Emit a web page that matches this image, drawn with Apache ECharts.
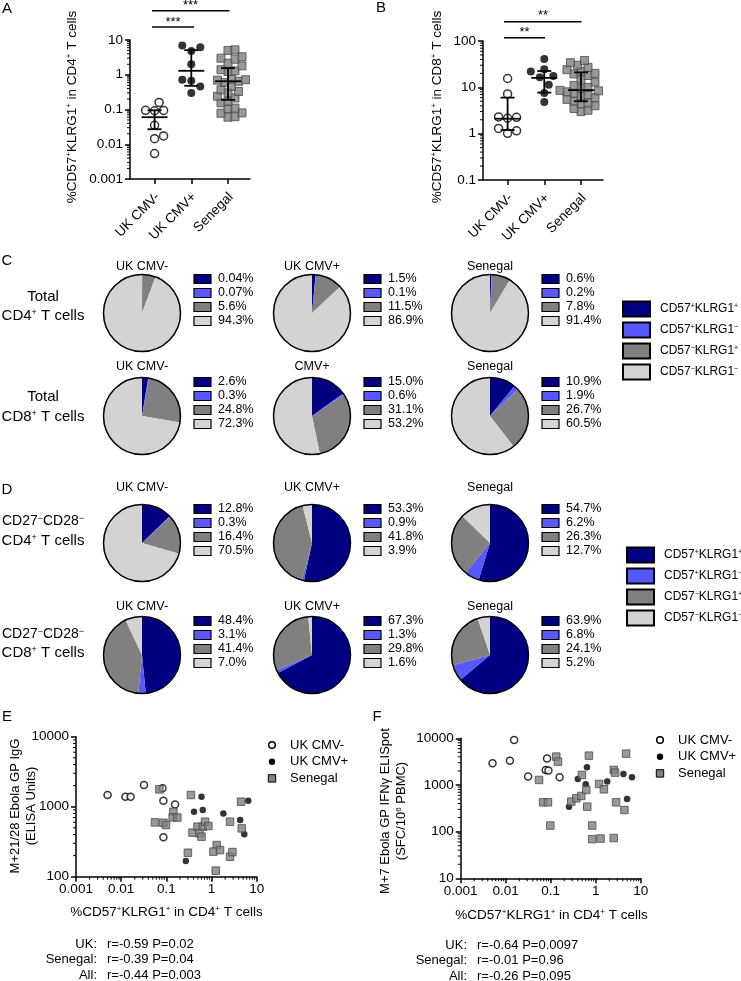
<!DOCTYPE html>
<html>
<head>
<meta charset="utf-8">
<script src="https://cdn.jsdelivr.net/npm/echarts@6/dist/echarts.min.js"></script>
<style>
  html, body { margin: 0; padding: 0; background: #fff; }
  #chart { width: 741px; height: 981px; }
</style>
</head>
<body>
<div id="chart"></div>
<script>
// ---- data ----
var groups = ["UK CMV-", "UK CMV+", "Senegal"];

// A: %CD57+KLRG1+ in CD4+ T cells
var aNeg = [0.16, 0.094, 0.092, 0.095, 0.035, 0.0174, 0.0145, 0.0054];
var aPos = [6.9, 6.2, 4.85, 2.0, 0.72, 0.67, 0.46, 0.30];
var aSen = [5.0, 5.2, 3.3, 3.0, 2.8, 2.15, 1.8, 1.4, 1.3, 1.24, 0.75, 0.72, 0.7, 0.65, 0.6,
            0.46, 0.37, 0.33, 0.30, 0.24, 0.215, 0.17, 0.155, 0.11, 0.107, 0.08, 0.078, 0.062, 0.06];
var aMedian = [0.06, 1.3, 0.65];
var aQ1 = [0.027, 0.48, 0.19];
var aQ3 = [0.095, 5.1, 1.55];

// B: %CD57+KLRG1+ in CD8+ T cells
var bNeg = [15.5, 7.2, 2.3, 2.15, 2.25, 1.3, 1.15, 1.02];
var bPos = [41, 24.5, 22, 17.5, 16.5, 11.4, 7.5, 4.8];
var bSen = [38, 34, 30, 27, 24, 22, 20, 19.5, 18, 15, 13, 11, 10, 9.5, 9, 8.6, 8.4, 8, 7.5,
            7, 6.5, 6, 5.5, 5, 4.6, 4.4, 4, 3.5, 3.2, 3.0];
var bMedian = [2.1, 16, 8.7];
var bQ1 = [1.2, 7.7, 5.0];
var bQ3 = [6.0, 22.5, 21];

// C / D: pie percentages (CD57+KLRG1+, CD57+KLRG1-, CD57-KLRG1+, CD57-KLRG1-)
var subsetNames = ["CD57^+KLRG1^+", "CD57^+KLRG1^-", "CD57^-KLRG1^+", "CD57^-KLRG1^-"];
var cCD4 = [[0.04, 0.07, 5.6, 94.3], [1.5, 0.1, 11.5, 86.9], [0.6, 0.2, 7.8, 91.4]];
var cCD8 = [[2.6, 0.3, 24.8, 72.3], [15.0, 0.6, 31.1, 53.2], [10.9, 1.9, 26.7, 60.5]];
var dCD4 = [[12.8, 0.3, 16.4, 70.5], [53.3, 0.9, 41.8, 3.9], [54.7, 6.2, 26.3, 12.7]];
var dCD8 = [[48.4, 3.1, 41.4, 7.0], [67.3, 1.3, 29.8, 1.6], [63.9, 6.8, 24.1, 5.2]];
var cTitlesTop = ["UK CMV-", "UK CMV+", "Senegal"];
var cTitlesBottom = ["UK CMV-", "CMV+", "Senegal"];

// E: [%CD57+KLRG1+ in CD4+, IgG ELISA units]
var eNeg = [[0.0050, 1470], [0.0124, 1390], [0.0162, 1390], [0.032, 2040], [0.082, 1830], [0.086, 1220], [0.156, 1075], [0.086, 365]];
var ePos = [[0.60, 1390], [0.41, 850], [0.64, 895], [1.83, 800], [4.3, 645], [6.5, 1220], [5.3, 405], [0.27, 167]];
var eSen = [[0.070, 1770], [0.35, 1470], [4.5, 1180], [0.056, 597], [0.086, 590], [0.098, 547], [0.143, 848], [0.138, 705],
            [0.175, 700], [0.38, 426], [0.49, 518], [0.64, 518], [0.72, 611], [0.85, 530], [0.54, 416], [0.60, 373],
            [0.30, 220], [2.57, 611], [4.66, 490], [1.30, 283], [1.10, 228], [1.54, 240], [2.57, 193], [2.9, 225], [1.24, 122]];
var eStats = [["UK:", "r=-0.59 P=0.02"], ["Senegal:", "r=-0.39 P=0.04"], ["All:", "r=-0.44 P=0.003"]];

// F: [%CD57+KLRG1+ in CD4+, IFNg ELISpot SFC/10^6 PBMC]
var fNeg = [[0.0051, 2910], [0.0124, 3320], [0.0154, 9200], [0.0315, 1510], [0.083, 3670], [0.0775, 2100], [0.089, 2040], [0.158, 1460]];
var fPos = [[0.64, 2390], [0.40, 1345], [0.60, 1035], [1.8, 1180], [4.13, 1720], [6.4, 1460], [4.98, 500], [0.255, 343]];
var fSen = [[0.133, 4050], [0.145, 3160], [0.055, 1280], [0.068, 425], [0.087, 425], [0.098, 135], [0.706, 4250], [0.494, 1640],
            [0.287, 440], [0.37, 518], [0.477, 581], [0.617, 782], [0.649, 343], [1.19, 1050], [1.52, 808], [0.836, 135],
            [0.836, 69], [1.28, 71], [2.52, 73], [2.52, 2100], [2.7, 1840], [2.84, 425], [4.35, 291], [4.73, 4690]];
var fStats = [["UK:", "r=-0.64 P=0.0097"], ["Senegal:", "r=-0.01 P=0.96"], ["All:", "r=-0.26 P=0.095"]];

// ---- styles ----
var FONT = "Liberation Sans, Arial, Helvetica, sans-serif";
var pieColors = ["#000080", "#5858ff", "#808080", "#d3d3d3"];
var colPos = [0.67, 1.67, 2.67]; // category centres on the dot-plot x axis
var colMax = 3.27;
var openStyle = { color: "#fff", borderColor: "#000", borderWidth: 1.5 };
var filledStyle = { color: "#000" };
var squareStyle = { color: "#7f7f7f", borderColor: "#4a4a4a", borderWidth: 1 };

var chart = echarts.init(document.getElementById("chart"));

function fmt(v) { return String(+v.toPrecision(6)); }

function minorVals(lo, hi) {
  var out = [];
  for (var p = lo; p < hi * 0.999; p *= 10) {
    for (var k = 2; k < 10; k++) out.push([+(p * k).toPrecision(6)]);
  }
  return out;
}

var axLine = { show: true, onZero: false, lineStyle: { color: "#000", width: 1.5 } };
var axTick = { show: true, length: 5, lineStyle: { color: "#000", width: 1.5 } };

function logAxis(grid, min, max, pos) {
  return {
    type: "log", logBase: 10, gridIndex: grid, min: min, max: max, position: pos,
    axisLine: axLine, axisTick: axTick, splitLine: { show: false },
    axisLabel: { color: "#000", fontSize: 13.5, fontFamily: FONT, margin: 7, formatter: fmt }
  };
}
function catAxis(grid) {
  return {
    type: "value", gridIndex: grid, min: 0, max: colMax, position: "bottom",
    axisLine: axLine, splitLine: { show: false },
    axisTick: { show: true, length: 5, customValues: colPos, lineStyle: { color: "#000", width: 1.5 } },
    axisLabel: { show: false }
  };
}

// short log-decade minor ticks (2..9) drawn through the axis scale
function minorTicks(grid, dim, min, max, other) {
  return {
    type: "custom", xAxisIndex: grid, yAxisIndex: grid, silent: true, z: 4, clip: false,
    data: minorVals(min, max),
    renderItem: function (params, api) {
      var v = api.value(0);
      var p = dim === "y" ? api.coord([other, v]) : api.coord([v, other]);
      var shape = dim === "y" ? { x1: p[0] - 3, y1: p[1], x2: p[0], y2: p[1] }
                              : { x1: p[0], y1: p[1], x2: p[0], y2: p[1] + 3 };
      return { type: "line", shape: shape, style: { stroke: "#000", lineWidth: 1 } };
    }
  };
}

// simple beeswarm so the column points do not overlap
function swarm(values, center, pxPerDecade, unitPx, size) {
  var placed = [];
  return values.slice().sort(function (a, b) { return a - b; }).map(function (v) {
    var py = Math.log(v) / Math.LN10 * pxPerDecade;
    var off = 0;
    for (var k = 0; k < 40; k++) {
      var cand = (k % 2 ? 1 : -1) * Math.ceil(k / 2) * size * 0.5;
      var ok = placed.every(function (p) {
        var dx = p[0] - cand, dy = p[1] - py;
        return dx * dx + dy * dy >= size * size * 0.95;
      });
      if (ok) { off = cand; break; }
    }
    placed.push([off, py]);
    return [center + off / unitPx, v];
  });
}

function summaryItem(params, api) {
  var x = api.value(0);
  var m = api.coord([x, api.value(1)]);
  var lo = api.coord([x, api.value(2)]);
  var hi = api.coord([x, api.value(3)]);
  var st = { stroke: "#000", lineWidth: 1.8 };
  return {
    type: "group",
    children: [
      { type: "line", shape: { x1: m[0] - 13, y1: m[1], x2: m[0] + 13, y2: m[1] }, style: st },
      { type: "line", shape: { x1: lo[0], y1: lo[1], x2: hi[0], y2: hi[1] }, style: st },
      { type: "line", shape: { x1: hi[0] - 7, y1: hi[1], x2: hi[0] + 7, y2: hi[1] }, style: st },
      { type: "line", shape: { x1: lo[0] - 7, y1: lo[1], x2: lo[0] + 7, y2: lo[1] }, style: st }
    ]
  };
}

function dotSeries(grid, neg, pos, sen, med, q1, q3, pxDec) {
  var unit = 120 / colMax;
  return [
    { type: "scatter", xAxisIndex: grid, yAxisIndex: grid, symbol: "circle", symbolSize: 8,
      itemStyle: openStyle, data: swarm(neg, colPos[0], pxDec, unit, 9), silent: true },
    { type: "scatter", xAxisIndex: grid, yAxisIndex: grid, symbol: "circle", symbolSize: 8,
      itemStyle: filledStyle, data: swarm(pos, colPos[1], pxDec, unit, 9), silent: true },
    { type: "scatter", xAxisIndex: grid, yAxisIndex: grid, symbol: "rect", symbolSize: 8,
      itemStyle: squareStyle, data: swarm(sen, colPos[2], pxDec, unit, 7), silent: true },
    { type: "custom", xAxisIndex: grid, yAxisIndex: grid, renderItem: summaryItem, silent: true, z: 5,
      data: colPos.map(function (p, i) { return [p, med[i], q1[i], q3[i]]; }) }
  ];
}

function xyScatter(grid, neg, pos, sen) {
  return [
    { type: "scatter", xAxisIndex: grid, yAxisIndex: grid, symbol: "circle", symbolSize: 7,
      itemStyle: openStyle, data: neg, silent: true },
    { type: "scatter", xAxisIndex: grid, yAxisIndex: grid, symbol: "circle", symbolSize: 6.5,
      itemStyle: filledStyle, data: pos, silent: true },
    { type: "scatter", xAxisIndex: grid, yAxisIndex: grid, symbol: "rect", symbolSize: 7.5,
      itemStyle: squareStyle, data: sen, silent: true }
  ];
}

// ---- graphic helpers ----
// "^x" marks a superscript character
function txt(x, y, s, size, align, rot) {
  var style = { fontFamily: FONT, fontSize: size, fill: "#000", align: align || "center", verticalAlign: "middle" };
  if (s.indexOf("^") >= 0) {
    var parts = s.split(/\^(.)/), out = "";
    parts.forEach(function (p, i) {
      if (!p) return;
      if (i % 2) p = p === "-" ? "\u2212" : p;
      out += (i % 2 ? "{s|" : "{n|") + p + "}";
    });
    style.text = out;
    style.rich = {
      n: { fontFamily: FONT, fontSize: size, fill: "#000" },
      s: { fontFamily: FONT, fontSize: Math.round(size * 0.62), fill: "#000", verticalAlign: "top" }
    };
  } else {
    style.text = s;
  }
  return { type: "text", x: x, y: y, rotation: rot || 0, silent: true, z: 10, style: style };
}
function seg(x1, y1, x2, y2, w) {
  return { type: "line", silent: true, z: 10, shape: { x1: x1, y1: y1, x2: x2, y2: y2 }, style: { stroke: "#000", lineWidth: w || 1.5 } };
}
function box(x, y, w, h, fill, bw) {
  return { type: "rect", silent: true, z: 10, shape: { x: x, y: y, width: w, height: h },
    style: { fill: fill, stroke: "#000", lineWidth: bw } };
}
function pct(v) { return (v < 0.1 ? v.toFixed(2) : v.toFixed(1)) + "%"; }

var graphics = [];
var series = [];

// panel letters
graphics.push(txt(7, 9, "A", 15), txt(381, 8, "B", 15), txt(7, 261, "C", 15),
              txt(7, 490, "D", 15), txt(7, 717, "E", 15), txt(377, 717, "F", 15));

// A/B annotations
graphics.push(txt(72, 107, "%CD57^+KLRG1^+ in CD4^+ T cells", 13.5, "center", Math.PI / 2));
graphics.push(txt(437, 107, "%CD57^+KLRG1^+ in CD8^+ T cells", 13.5, "center", Math.PI / 2));
graphics.push(seg(152, 10.7, 229.5, 10.7), txt(190.5, 5, "***", 13));
graphics.push(seg(152, 27, 194, 27), txt(173, 22, "***", 13));
graphics.push(seg(504, 21.7, 581.5, 21.7), txt(543, 15.5, "**", 13));
graphics.push(seg(504, 37.7, 545, 37.7), txt(524.5, 32, "**", 13));

// slanted group labels under the dot plots (x from the category centres)
[[130, 179], [483, 180]].forEach(function (g) {
  colPos.forEach(function (p, i) {
    graphics.push(txt(g[0] + p * 120 / colMax + 3, g[1] + 16, groups[i], 13.5, "right", Math.PI / 4));
  });
});

// pies
var pieX = [142, 312, 490];
var pieRows = [
  { y: 313, titleY: 267, titles: cTitlesTop, data: cCD4, label: ["Total", "CD4^+ T cells"], labY: [297, 316], fs: 15 },
  { y: 416, titleY: 367, titles: cTitlesBottom, data: cCD8, label: ["Total", "CD8^+ T cells"], labY: [397, 417], fs: 15 },
  { y: 543, titleY: 488, titles: groups, data: dCD4, label: ["CD27^-CD28^-", "CD4^+ T cells"], labY: [521, 541], fs: 14 },
  { y: 655, titleY: 607, titles: groups, data: dCD8, label: ["CD27^-CD28^-", "CD8^+ T cells"], labY: [634, 653], fs: 14 }
];
var R = 38.5;
pieRows.forEach(function (row) {
  graphics.push(txt(43, row.labY[0], row.label[0], row.fs), txt(43, row.labY[1], row.label[1], 15));
  row.data.forEach(function (vals, j) {
    var cx = pieX[j];
    series.push({
      type: "pie", center: [cx, row.y], radius: R, startAngle: 90, clockwise: true,
      label: { show: false }, labelLine: { show: false }, silent: true, minAngle: 0,
      emphasis: { disabled: true },
      data: vals.map(function (v, k) { return { value: v, name: subsetNames[k], itemStyle: { color: pieColors[k] } }; })
    });
    series.push({
      type: "pie", center: [cx, row.y], radius: R, label: { show: false }, silent: true, z: 3,
      emphasis: { disabled: true },
      data: [{ value: 1, itemStyle: { color: "rgba(0,0,0,0)", borderColor: "#000", borderWidth: 1.5 } }]
    });
    graphics.push(txt(cx, row.titleY, row.titles[j], 12.5));
    vals.forEach(function (v, k) {
      var ly = row.y - 34 + 14 * k;
      graphics.push(box(cx + 52, ly - 4.5, 17, 9, pieColors[k], 1.2));
      graphics.push(txt(cx + 76, ly, pct(v), 12.5, "left"));
    });
  });
});

// big subset legends
[[623, 309], [627, 555]].forEach(function (lg) {
  subsetNames.forEach(function (n, k) {
    var y = lg[1] + 21 * k;
    graphics.push(box(lg[0], y - 7.5, 27, 15, pieColors[k], 2));
    graphics.push(txt(lg[0] + 37, y, n, 12, "left"));
  });
});

// E / F texts and legends
graphics.push(txt(15, 806, "M+21/28 Ebola GP IgG", 13, "center", Math.PI / 2));
graphics.push(txt(31.5, 806, "(ELISA Units)", 13, "center", Math.PI / 2));
graphics.push(txt(166.5, 912, "%CD57^+KLRG1^+ in CD4^+ T cells", 13.5));
graphics.push(txt(385, 811, "M+7 Ebola GP IFN\u03B3 ELISpot", 13, "center", Math.PI / 2));
graphics.push(txt(401.5, 811, "(SFC/10^6 PBMC)", 13, "center", Math.PI / 2));
graphics.push(txt(551.5, 915, "%CD57^+KLRG1^+ in CD4^+ T cells", 13.5));

[[eStats, 97, 944], [fStats, 467, 945]].forEach(function (s) {
  s[0].forEach(function (r, i) {
    graphics.push(txt(s[1], s[2] + 15.5 * i, r[0], 13, "right"));
    graphics.push(txt(s[1] + 10, s[2] + 15.5 * i, r[1], 13, "left"));
  });
});

[[272, 745], [660, 740]].forEach(function (lg) {
  var gy = lg[1];
  graphics.push({ type: "circle", silent: true, z: 10, shape: { cx: lg[0], cy: gy, r: 3.3 }, style: { fill: "#fff", stroke: "#000", lineWidth: 1.5 } });
  graphics.push({ type: "circle", silent: true, z: 10, shape: { cx: lg[0], cy: gy + 16.7, r: 3.2 }, style: { fill: "#000" } });
  graphics.push(box(lg[0] - 3.7, gy + 33.4 - 3.7, 7.4, 7.4, "#7f7f7f", 1));
  groups.forEach(function (g, k) { graphics.push(txt(lg[0] + 18, gy + 16.7 * k, g, 13, "left")); });
});

// axes
var grids = [
  { left: 130, top: 40, width: 120, height: 139 },
  { left: 483, top: 41, width: 120, height: 139 },
  { left: 76, top: 736.7, width: 180.7, height: 140 },
  { left: 460.7, top: 738.3, width: 180, height: 140 }
];
var xAxes = [catAxis(0), catAxis(1), logAxis(2, 0.001, 10, "bottom"), logAxis(3, 0.001, 10, "bottom")];
var yAxes = [logAxis(0, 0.001, 10, "left"), logAxis(1, 0.1, 100, "left"),
             logAxis(2, 100, 10000, "left"), logAxis(3, 10, 10000, "left")];
xAxes[2].axisLabel.margin = 6;
xAxes[3].axisLabel.margin = 6;

series = series.concat(
  dotSeries(0, aNeg, aPos, aSen, aMedian, aQ1, aQ3, 139 / 4),
  dotSeries(1, bNeg, bPos, bSen, bMedian, bQ1, bQ3, 139 / 3),
  xyScatter(2, eNeg, ePos, eSen),
  xyScatter(3, fNeg, fPos, fSen),
  minorTicks(0, "y", 0.001, 10, 0),
  minorTicks(1, "y", 0.1, 100, 0),
  minorTicks(2, "y", 100, 10000, 0.001),
  minorTicks(2, "x", 0.001, 10, 100),
  minorTicks(3, "y", 10, 10000, 0.001),
  minorTicks(3, "x", 0.001, 10, 10)
);

chart.setOption({
  animation: false,
  backgroundColor: "#fff",
  textStyle: { fontFamily: FONT },
  grid: grids,
  xAxis: xAxes,
  yAxis: yAxes,
  series: series,
  graphic: graphics
});
</script>
</body>
</html>
